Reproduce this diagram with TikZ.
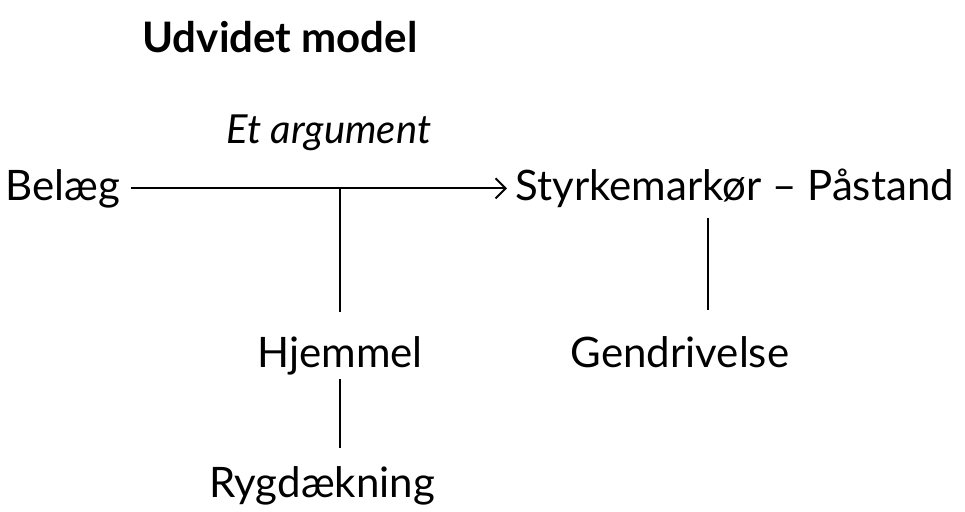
\documentclass[tikz,border=0pt]{standalone}
\usepackage{fontspec}
\setmainfont{Lato}
\usetikzlibrary{arrows.meta}
\tikzset{
    lbl/.style={anchor=base, inner sep=2pt, font=\fontsize{21}{25}\selectfont},
    conn/.style={line width=1pt}
}
\begin{document}
\begin{tikzpicture}[>={Straight Barb[length=5pt, width=10pt]}, x=0.5pt, y=-0.5pt]
    \useasboundingbox (0,0) rectangle (965,511);

    % Title and heading
    \node[lbl, font=\fontsize{21}{25}\selectfont\bfseries] (title) at (280, 52) {Udvidet model};
    \node[lbl, font=\fontsize{20}{24}\selectfont\itshape] (arg) at (329, 143) {Et argument};

    % Nodes for the model
    \node[lbl] (bel) at (63, 200) {Belæg};
    \node[lbl, anchor=base west] (claim) at (511, 200) {Styrkemarkør -- Påstand};
    \node[lbl] (hjem) at (340, 367) {Hjemmel};
    \node[lbl] (gend) at (680, 367) {Gendrivelse};
    \node[lbl] (ryg) at (322, 497) {Rygdækning};

    % Connectors
    \draw[->, conn, shorten <=3pt, shorten >=2pt] (bel.east) -- (bel.east -| claim.west);
    \draw[conn, shorten >=10pt] (hjem.north |- bel.east) -- (hjem.north);
    \draw[conn, shorten >=7pt] (hjem.south) -- (hjem.south |- ryg.north);
    \draw[conn, shorten <=3pt, shorten >=11pt] ([xshift=14pt]gend.north |- claim.south) -- ([xshift=14pt]gend.north);
\end{tikzpicture}
\end{document}
